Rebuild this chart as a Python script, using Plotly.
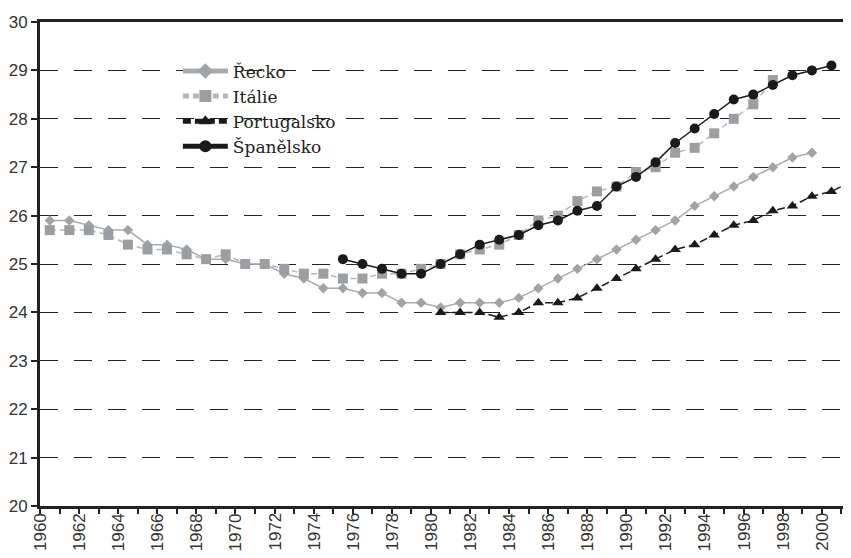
import plotly.graph_objects as go

# ---- data ----
years_greece = list(range(1960, 2000))
greece = [25.9, 25.9, 25.8, 25.7, 25.7, 25.4, 25.4, 25.3, 25.1, 25.1,
          25.0, 25.0, 24.8, 24.7, 24.5, 24.5, 24.4, 24.4, 24.2, 24.2,
          24.1, 24.2, 24.2, 24.2, 24.3, 24.5, 24.7, 24.9, 25.1, 25.3,
          25.5, 25.7, 25.9, 26.2, 26.4, 26.6, 26.8, 27.0, 27.2, 27.3]

years_italy = list(range(1960, 1998))
italy = [25.7, 25.7, 25.7, 25.6, 25.4, 25.3, 25.3, 25.2, 25.1, 25.2,
         25.0, 25.0, 24.9, 24.8, 24.8, 24.7, 24.7, 24.8, 24.8, 24.9,
         25.0, 25.2, 25.3, 25.4, 25.6, 25.9, 26.0, 26.3, 26.5, 26.6,
         26.9, 27.0, 27.3, 27.4, 27.7, 28.0, 28.3, 28.8]

years_portugal = list(range(1980, 2002))
portugal = [24.0, 24.0, 24.0, 23.9, 24.0, 24.2, 24.2, 24.3, 24.5, 24.7,
            24.9, 25.1, 25.3, 25.4, 25.6, 25.8, 25.9, 26.1, 26.2, 26.4,
            26.5, 26.7]

years_spain = list(range(1975, 2001))
spain = [25.1, 25.0, 24.9, 24.8, 24.8, 25.0, 25.2, 25.4, 25.5, 25.6,
         25.8, 25.9, 26.1, 26.2, 26.6, 26.8, 27.1, 27.5, 27.8, 28.1,
         28.4, 28.5, 28.7, 28.9, 29.0, 29.1]

tick_years = list(range(1960, 2002))
label_years = list(range(1960, 2001, 2))
y_ticks = list(range(20, 31))

names = ["Řecko", "Itálie", "Portugalsko", "Španělsko"]

fig = go.Figure()
fig.add_trace(go.Scatter(
    x=years_greece, y=greece, name=names[0], mode="lines+markers",
    line=dict(color="#a9acaf", width=1.5),
    marker=dict(symbol="diamond", size=8, color="#a0a4a8")))
fig.add_trace(go.Scatter(
    x=years_italy, y=italy, name=names[1], mode="lines+markers",
    line=dict(color="#b4b7ba", width=1.5, dash="6px,4px"),
    marker=dict(symbol="square", size=10, color="#9b9fa3")))
fig.add_trace(go.Scatter(
    x=years_portugal, y=portugal, name=names[2], mode="lines+markers",
    line=dict(color="#1a1a1a", width=1.5, dash="8px,4px"),
    marker=dict(symbol="triangle-up", size=10, color="#1a1a1a")))
fig.add_trace(go.Scatter(
    x=years_spain, y=spain, name=names[3], mode="lines+markers",
    line=dict(color="#1a1a1a", width=1.5),
    marker=dict(symbol="circle", size=10, color="#1a1a1a")))

label_font = dict(family="Liberation Sans, Arial, sans-serif", size=17, color="#333333")

# rotated year labels under the tick marks
for yr in label_years:
    fig.add_annotation(
        x=yr - 0.5, xref="x", y=0, yref="paper",
        text=str(yr), textangle=-90, showarrow=False,
        xanchor="center", yanchor="top", yshift=-5,
        font=label_font,
    )

fig.update_layout(
    width=843, height=550,
    margin=dict(l=32, r=0, t=14, b=52, autoexpand=False),
    paper_bgcolor="white", plot_bgcolor="white",
    font=dict(family="Liberation Sans, Arial, sans-serif", size=17, color="#333333"),
    showlegend=True,
    legend=dict(
        x=0.17, y=0.935, xanchor="left", yanchor="top",
        bgcolor="rgba(0,0,0,0)",
        font=dict(family="DejaVu Serif, serif", size=17, color="#222222"),
        tracegroupgap=0, itemsizing="constant", itemwidth=45,
    ),
)

fig.update_xaxes(
    range=[1959.5, 2001.0],
    tickmode="array",
    tickvals=[y - 0.5 for y in tick_years],
    showticklabels=False,
    ticks="outside", ticklen=5, tickwidth=1.5, tickcolor="#222222",
    showgrid=False, zeroline=False, automargin=False,
    showline=True, linecolor="#222222", linewidth=3, mirror=True,
)
fig.update_yaxes(
    range=[20, 30],
    tickmode="array",
    tickvals=y_ticks,
    tickfont=dict(family="Liberation Sans, Arial, sans-serif", size=17, color="#333333"),
    ticks="outside", ticklen=6, tickwidth=1.5, tickcolor="#222222",
    showgrid=True, gridcolor="#222222", gridwidth=1.3,
    griddash="18px,16px",
    zeroline=False, automargin=False,
    showline=True, linecolor="#222222", linewidth=3,
)

fig.write_html("out.html")
